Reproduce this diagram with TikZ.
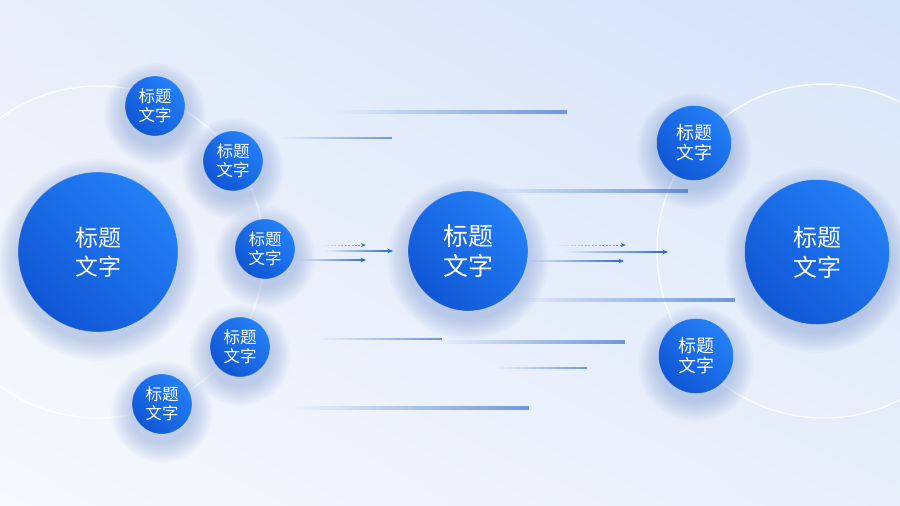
\documentclass[tikz,border=0pt]{standalone}
\usepackage{fontspec}
\newfontfamily\cjk{Noto Sans CJK SC}
\usetikzlibrary{fadings,shadings,arrows.meta}
\definecolor{bgUL}{RGB}{232,238,250}
\definecolor{bgUR}{RGB}{212,226,250}
\definecolor{bgLL}{RGB}{246,249,254}
\definecolor{bgLR}{RGB}{232,239,251}
\definecolor{cTop}{RGB}{36,128,247}
\definecolor{cBot}{RGB}{16,86,212}
\definecolor{glowC}{RGB}{70,110,200}
\definecolor{lineC}{RGB}{80,130,215}
\definecolor{arrC}{RGB}{40,105,212}
\tikzfading[name=fromleft, left color=transparent!100, right color=transparent!0]
\newcommand\glowat[3]{%
  \foreach \k in {1,...,11}{\fill[glowC, fill opacity=0.026] (#1,#2-8) circle ({#3+\k*1.9});}}
\tikzset{
  bub/.style={circle, inner sep=0pt, text=white, align=center,
    draw=white, draw opacity=0.3, line width=0.8pt,
    top color=cTop, bottom color=cBot, shading angle=-45},
  bigbub/.style={bub, minimum size=#1, font=\cjk\fontsize{23}{29}\selectfont},
  smallbub/.style={bub, minimum size=#1, font=\cjk\fontsize{16.5}{19}\selectfont},
  ring/.style={draw=white, line width=1.5pt, draw opacity=0.85},
  deco/.style={fill=lineC, fill opacity=0.8, path fading=fromleft},
  arr/.style={draw=arrC, line width=1.1pt, -{Stealth[length=5.5pt,width=4.5pt]}, path fading=fromleft},
  darr/.style={arr, draw opacity=0.8, line width=0.7pt, dash pattern=on 2pt off 1.5pt}
}
\begin{document}
\begin{tikzpicture}[x=1pt,y=1pt]
\useasboundingbox (0,-506) rectangle (900,0);
\clip (0,-506) rectangle (900,0);
\shade[upper left=bgUL, upper right=bgUR, lower left=bgLL, lower right=bgLR] (0,-506) rectangle (900,0);
% rings
\fill[white, fill opacity=0.12] (98,-252) circle (166);
\fill[white, fill opacity=0.12] (824,-251) circle (167);
\draw[ring] (98,-252) circle (166);
\draw[ring] (824,-251) circle (167);
% decorative lines
\fill[deco] (335,-110) rectangle (567,-114);
\fill[deco] (280,-137.3) rectangle (392,-138.7);
\fill[deco] (483,-189) rectangle (688,-193);
\fill[deco] (510,-298) rectangle (735,-302);
\fill[deco] (317,-338) rectangle (442,-340);
\fill[deco] (437,-340) rectangle (625,-344);
\fill[deco] (497,-367) rectangle (587,-369);
\fill[deco] (293,-406) rectangle (529,-410);
% glows
\glowat{98}{-252}{80}
\glowat{155}{-106}{30}
\glowat{233}{-161}{30}
\glowat{265}{-249}{30}
\glowat{240}{-347}{30}
\glowat{162}{-404}{30}
\glowat{468}{-251}{60}
\glowat{817}{-252}{72}
\glowat{694}{-143}{37}
\glowat{696}{-356}{37}
% circles
\node[bigbub=160pt] (L) at (98,-252) {标题\\文字};
\node[smallbub=60pt] (s1) at (155,-106) {标题\\文字};
\node[smallbub=60pt] (s2) at (233,-161) {标题\\文字};
\node[smallbub=60pt] (s3) at (265,-249) {标题\\文字};
\node[smallbub=60pt] (s4) at (240,-347) {标题\\文字};
\node[smallbub=60pt] (s5) at (162,-404) {标题\\文字};
\node[bigbub=120pt, font=\cjk\fontsize{25}{30}\selectfont] (M) at (468,-251) {标题\\文字};
\node[bigbub=145pt, font=\cjk\fontsize{24}{30}\selectfont] (R) at (817,-252) {标题\\文字};
\node[smallbub=75pt, font=\cjk\fontsize{18}{20}\selectfont] (r1) at (694,-143) {标题\\文字};
\node[smallbub=75pt, font=\cjk\fontsize{18}{20}\selectfont] (r2) at (696,-356) {标题\\文字};
% arrow end points
\coordinate (a1s) at (320,-245); \coordinate (a1e) at (366,-245);
\coordinate (a2s) at (325,-251); \coordinate (a2e) at (393,-251);
\coordinate (a3s) at (300,-260); \coordinate (a3e) at (366,-260);
\coordinate (b1s) at (553,-245); \coordinate (b1e) at (626,-245);
\coordinate (b2s) at (565,-252); \coordinate (b2e) at (668,-252);
\coordinate (b3s) at (528,-261); \coordinate (b3e) at (624,-261);
\draw[darr] (a1s) ++(0,3) (a1s) ++(0,-3) (a1s) -- (a1e);
\draw[arr] (a2s) ++(0,3) (a2s) ++(0,-3) (a2s) -- (a2e);
\draw[arr] (a3s) ++(0,3) (a3s) ++(0,-3) (a3s) -- (a3e);
\draw[darr] (b1s) ++(0,3) (b1s) ++(0,-3) (b1s) -- (b1e);
\draw[arr] (b2s) ++(0,3) (b2s) ++(0,-3) (b2s) -- (b2e);
\draw[arr] (b3s) ++(0,3) (b3s) ++(0,-3) (b3s) -- (b3e);
\end{tikzpicture}
\end{document}
